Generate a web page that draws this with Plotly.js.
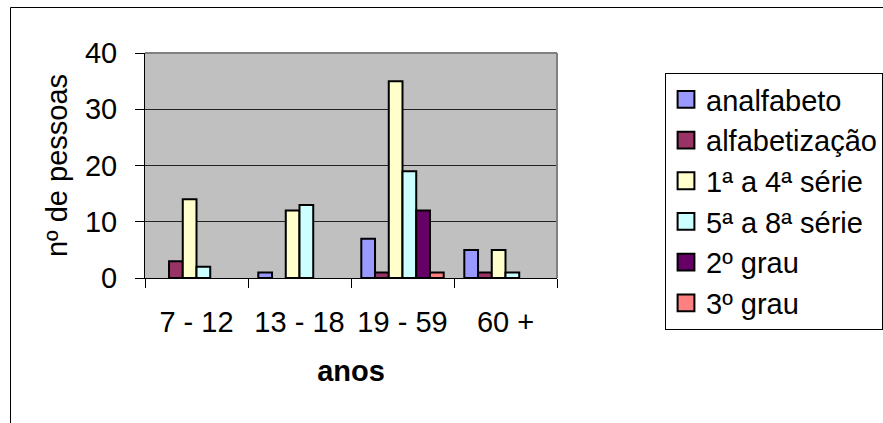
<!DOCTYPE html>
<html>
<head>
<meta charset="utf-8">
<script src="https://cdn.plot.ly/plotly-3.0.1.min.js"></script>
<style>
html,body{margin:0;padding:0;background:#fff;}
#chart{width:883px;height:423px;}
</style>
</head>
<body>
<div id="chart"></div>
<script>
const categories = ["7 - 12", "13 - 18", "19 - 59", "60 +"];
const seriesNames = ["analfabeto", "alfabetização", "1ª a 4ª série", "5ª a 8ª série", "2º grau", "3º grau"];
const analfabeto = [0, 1, 7, 5];
const alfabetizacao = [3, 0, 1, 1];
const serie1a4 = [14, 12, 35, 5];
const serie5a8 = [2, 13, 19, 1];
const grau2 = [0, 0, 12, 0];
const grau3 = [0, 0, 1, 0];
const yTicks = [0, 10, 20, 30, 40];
const seriesValues = [analfabeto, alfabetizacao, serie1a4, serie5a8, grau2, grau3];
const colors = ["#9999FF", "#993366", "#FFFFCC", "#CCFFFF", "#660066", "#FF8080"];

const font = "Liberation Sans, Arial, sans-serif";
const fs = 29;

const traces = seriesNames.map((name, i) => ({
  type: "bar",
  name: name,
  x: categories,
  // zero counts draw no bar (as in the original)
  y: seriesValues[i].map(v => v === 0 ? null : v),
  legendgroup: "g" + i,
  marker: {color: colors[i], line: {color: "#000", width: 2}},
  hoverinfo: "x+y+name"
}));

// plot area pixels
const L = 145, R = 557, T = 53, B = 278, W = 883, H = 423;
const pw = R - L, ph = B - T;
const px = p => (p - L) / pw;
const py = p => (B - p) / ph;

const layout = {
  width: W, height: H,
  margin: {l: L, r: W - R, t: T, b: H - B, pad: 0, autoexpand: false},
  paper_bgcolor: "#fff",
  plot_bgcolor: "#C0C0C0",
  font: {family: font, size: fs, color: "#000"},
  barmode: "group",
  bargap: 0.2,
  bargroupgap: 0,
  showlegend: true,
  legend: {
    x: px(665), y: py(73), xanchor: "left", yanchor: "top",
    bgcolor: "#fff", bordercolor: "#000", borderwidth: 1,
    font: {family: font, size: fs, color: "#000"},
    traceorder: "grouped", tracegroupgap: 0,
    maxheight: 340,
    itemclick: false
  },
  xaxis: {
    type: "category",
    showline: true, linecolor: "#000", linewidth: 1,
    ticks: "outside", tickson: "boundaries", ticklen: 9, tickcolor: "#000", tickwidth: 1,
    ticklabelstandoff: 18,
    showgrid: false, zeroline: false,
    tickfont: {family: font, size: fs, color: "#000"},
    title: {text: "<b>anos</b>", font: {family: font, size: fs, color: "#000"}, standoff: 23}
  },
  yaxis: {
    range: [0, 40],
    tickvals: yTicks,
    showline: true, linecolor: "#000", linewidth: 1,
    ticks: "outside", ticklen: 9, tickcolor: "#000", tickwidth: 1,
    ticklabelstandoff: 12,
    showgrid: true, gridcolor: "#222", gridwidth: 1,
    zeroline: false,
    tickfont: {family: font, size: fs, color: "#000"},
    title: {text: "nº de pessoas", font: {family: font, size: fs, color: "#000"}, standoff: 8}
  },
  shapes: [
    // plot area top/right border
    {type: "line", xref: "paper", yref: "paper", x0: 0, x1: 1, y0: 1, y1: 1, line: {color: "#808080", width: 2}},
    {type: "line", xref: "paper", yref: "paper", x0: 1, x1: 1, y0: 0, y1: 1, line: {color: "#808080", width: 2}},
    // chart outer frame (left and top)
    {type: "line", xref: "paper", yref: "paper", x0: px(10.5), x1: px(10.5), y0: py(7.5), y1: py(430), line: {color: "#000", width: 1}},
    {type: "line", xref: "paper", yref: "paper", x0: px(10.5), x1: px(890), y0: py(7.5), y1: py(7.5), line: {color: "#000", width: 1}}
  ]
};

Plotly.newPlot("chart", traces, layout, {displayModeBar: false, staticPlot: true}).then(gd => {
  // enlarge legend swatches to match the original's square keys
  gd.querySelectorAll(".legendpoints path").forEach(p => {
    const t = p.getAttribute("transform") || "";
    p.setAttribute("transform", (t + " scale(1.4)").trim());
    p.style.vectorEffect = "non-scaling-stroke";
  });
});
</script>
</body>
</html>
